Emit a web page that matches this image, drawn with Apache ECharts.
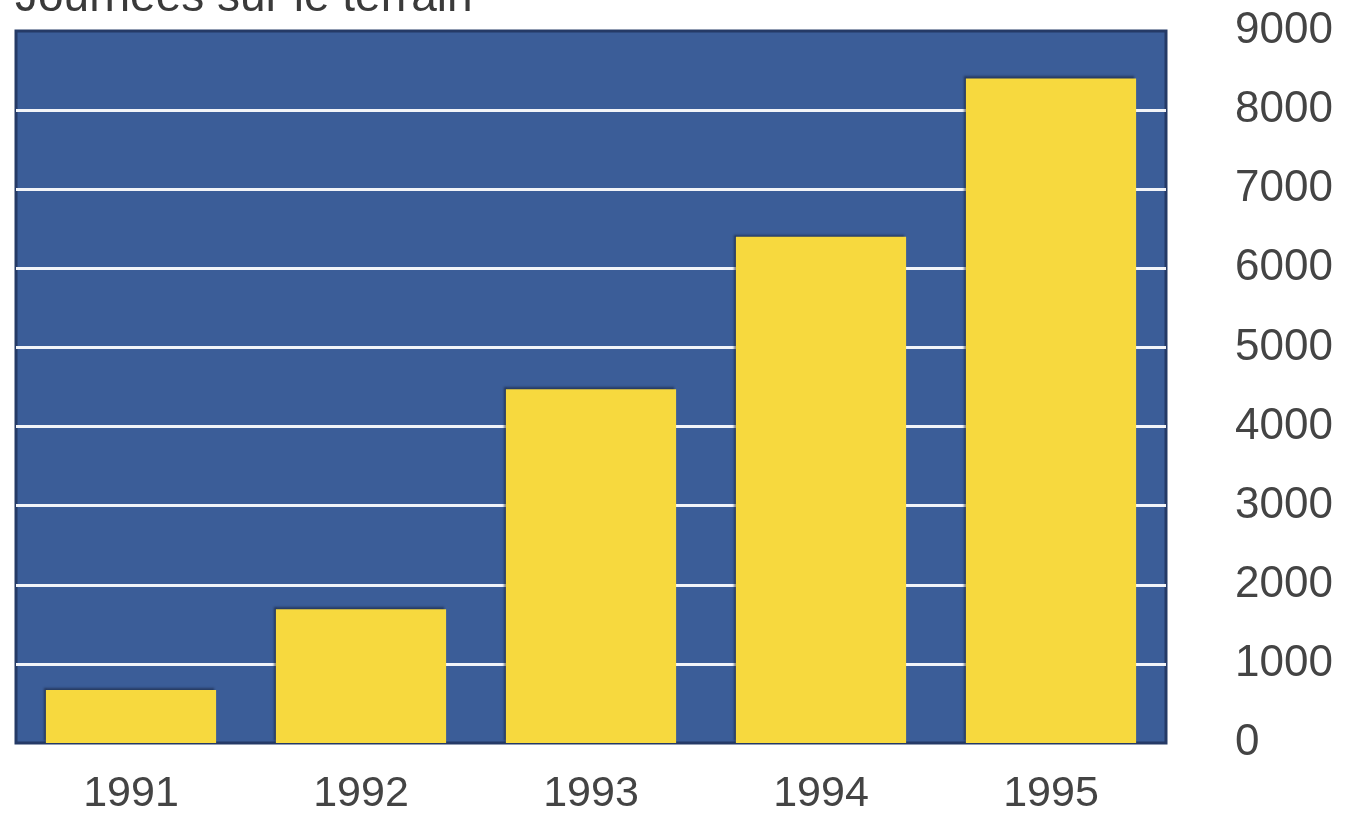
<!DOCTYPE html>
<html>
<head>
<meta charset="utf-8">
<script src="https://cdn.jsdelivr.net/npm/echarts@6/dist/echarts.min.js"></script>
<style>
  html, body { margin: 0; padding: 0; background: #fff; }
  #chart { width: 1346px; height: 819px; }
</style>
</head>
<body>
<div id="chart"></div>
<script>
// données
var years = ['1991', '1992', '1993', '1994', '1995'];
var journees = [670, 1690, 4470, 6400, 8400];
var yMax = 9000;
var yStep = 1000;

var chart = echarts.init(document.getElementById('chart'));
var option = {
  animation: false,
  title: {
    text: 'Journées sur le terrain',
    left: 10,
    top: -30,
    textStyle: {
      color: '#3a3a3a',
      fontFamily: 'Liberation Sans',
      fontSize: 46,
      fontWeight: 'normal'
    }
  },
  grid: {
    left: 16, right: 180, top: 31, bottom: 76,
    show: true,
    backgroundColor: '#3b5d98',
    borderColor: '#253a66',
    borderWidth: 3
  },
  xAxis: {
    type: 'category',
    data: years,
    axisLine: { show: false },
    axisTick: { show: false },
    axisLabel: {
      margin: 30,
      color: '#444',
      fontFamily: 'Liberation Sans',
      fontSize: 43
    }
  },
  yAxis: {
    type: 'value',
    position: 'right',
    min: 0,
    max: yMax,
    interval: yStep,
    axisLine: { show: false },
    axisTick: { show: false },
    axisLabel: {
      margin: 69,
      align: 'left',
      color: '#444',
      fontFamily: 'Liberation Sans',
      fontSize: 44,
      formatter: function (v) { return String(v); }
    },
    splitLine: {
      show: true,
      showMinLine: false,
      showMaxLine: false,
      lineStyle: { color: '#f2f4f8', width: 3 }
    }
  },
  series: [{
    type: 'bar',
    data: journees,
    barWidth: '74%',
    itemStyle: {
      color: '#f7d93e',
      shadowColor: 'rgba(20,30,50,0.55)',
      shadowBlur: 2,
      shadowOffsetX: -2,
      shadowOffsetY: -2
    }
  }]
};
chart.setOption(option);
</script>
</body>
</html>
